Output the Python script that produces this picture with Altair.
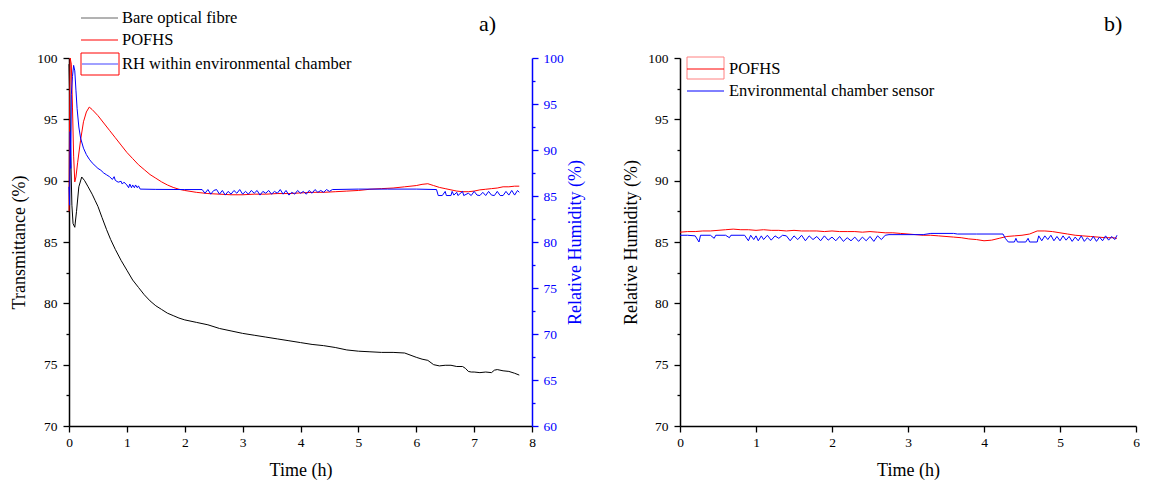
import altair as alt
import pandas as pd

FONT = "Liberation Serif"

# ---------------- Panel a) ----------------
bare_time = [0.0, 0.01, 0.03, 0.05, 0.07, 0.1, 0.13, 0.17, 0.22, 0.27,
             0.33, 0.4, 0.45, 0.5, 0.57, 0.65, 0.72, 0.8, 0.9, 1.0,
             1.1, 1.2, 1.3, 1.4, 1.5, 1.6, 1.7, 1.8, 1.9, 2.0,
             2.2, 2.4, 2.6, 2.8, 3.0, 3.2, 3.4, 3.6, 3.8, 4.0,
             4.2, 4.4, 4.6, 4.8, 5.0, 5.2, 5.4, 5.6, 5.8, 6.0,
             6.1, 6.2, 6.3, 6.4, 6.5, 6.6, 6.7, 6.8, 6.85, 6.9,
             6.95, 7.0, 7.1, 7.2, 7.3, 7.35, 7.4, 7.5, 7.6, 7.7,
             7.78]
bare_T = [99.5, 97.0, 92.0, 88.0, 86.5, 86.2, 87.5, 89.5, 90.3, 90.0,
          89.5, 88.9, 88.4, 87.9, 87.0, 86.0, 85.2, 84.4, 83.5, 82.7,
          81.9, 81.3, 80.7, 80.2, 79.8, 79.5, 79.2, 79.0, 78.8, 78.65,
          78.45, 78.25, 77.95, 77.75, 77.55, 77.4, 77.25, 77.1, 76.95, 76.8,
          76.65, 76.55, 76.4, 76.2, 76.1, 76.05, 76.0, 76.0, 75.95, 75.6,
          75.45, 75.35, 75.0, 74.9, 74.95, 74.95, 74.85, 74.85, 74.7, 74.45,
          74.4, 74.4, 74.35, 74.4, 74.35, 74.55, 74.6, 74.5, 74.45, 74.3,
          74.15]

pofhs_a_time = [0.0, 0.01, 0.02, 0.04, 0.06, 0.08, 0.1, 0.12, 0.15, 0.2,
                0.25, 0.3, 0.35, 0.4, 0.5, 0.6, 0.7, 0.8, 0.9, 1.0,
                1.1, 1.2, 1.3, 1.4, 1.5, 1.6, 1.7, 1.8, 1.9, 2.0,
                2.2, 2.4, 2.6, 2.8, 3.0, 3.2, 3.4, 3.6, 3.8, 4.0,
                4.2, 4.4, 4.6, 4.8, 5.0, 5.2, 5.4, 5.6, 5.8, 6.0,
                6.1, 6.2, 6.3, 6.4, 6.5, 6.6, 6.7, 6.8, 6.9, 7.0,
                7.1, 7.2, 7.3, 7.4, 7.5, 7.6, 7.7, 7.78]
pofhs_a_T = [87.5, 95.0, 100.0, 99.5, 96.0, 92.0, 89.9, 90.3, 91.5, 93.3,
             94.8, 95.6, 96.0, 95.8, 95.3, 94.7, 94.1, 93.5, 92.9, 92.3,
             91.8, 91.3, 90.9, 90.5, 90.2, 89.9, 89.65, 89.45, 89.3, 89.2,
             89.05, 88.95, 88.9, 88.85, 88.85, 88.9, 88.9, 88.95, 88.95, 89.0,
             89.05, 89.05, 89.1, 89.15, 89.2, 89.3, 89.35, 89.4, 89.5, 89.6,
             89.7, 89.75, 89.6, 89.45, 89.35, 89.25, 89.15, 89.1, 89.1, 89.15,
             89.25, 89.3, 89.35, 89.4, 89.5, 89.5, 89.55, 89.55]

rh_a_time = [0.0, 0.01, 0.02, 0.03, 0.04, 0.06, 0.08, 0.1, 0.12, 0.14,
             0.17, 0.2, 0.25, 0.3, 0.35, 0.4, 0.45, 0.5, 0.55, 0.6,
             0.65, 0.7, 0.75, 0.78, 0.8, 0.85, 0.9, 0.92, 0.95, 1.0,
             1.03, 1.05, 1.08, 1.1, 1.13, 1.15, 1.18, 1.2, 1.23, 1.5,
             2.0, 2.3, 2.35, 2.4, 2.45, 2.5, 2.55, 2.6, 2.65, 2.7,
             2.75, 2.8, 2.85, 2.9, 2.95, 3.0, 3.05, 3.1, 3.15, 3.2,
             3.25, 3.3, 3.35, 3.4, 3.45, 3.5, 3.55, 3.6, 3.65, 3.7,
             3.75, 3.8, 3.85, 3.9, 3.95, 4.0, 4.05, 4.1, 4.15, 4.2,
             4.25, 4.3, 4.35, 4.4, 4.45, 4.5, 4.55, 5.0, 5.5, 6.0,
             6.35, 6.38, 6.45, 6.5, 6.52, 6.6, 6.62, 6.65, 6.7, 6.72,
             6.8, 6.82, 6.9, 6.95, 7.0, 7.05, 7.1, 7.15, 7.2, 7.25,
             7.3, 7.35, 7.4, 7.45, 7.5, 7.55, 7.6, 7.65, 7.7, 7.75,
             7.78]
rh_a_RH = [86.0, 84.0, 92.0, 88.0, 96.0, 98.0, 99.2, 98.6, 96.5, 94.5,
           92.5, 91.3, 90.2, 89.5, 89.0, 88.6, 88.3, 88.0, 87.8, 87.5,
           87.3, 87.1, 86.8, 87.1, 86.7, 86.5, 86.6, 86.3, 86.5, 86.2,
           85.9, 86.3, 85.9, 86.2, 85.9, 86.2, 85.9, 86.1, 85.75, 85.72,
           85.7, 85.7, 85.3, 85.7, 85.2, 85.6, 85.7, 85.2, 85.6, 85.1,
           85.5, 85.2, 85.6, 85.3, 85.7, 85.2, 85.5, 85.2, 85.6, 85.3,
           85.6, 85.1, 85.5, 85.3, 85.6, 85.2, 85.5, 85.3, 85.7, 85.2,
           85.6, 85.1, 85.4, 85.2, 85.6, 85.3, 85.5, 85.2, 85.6, 85.3,
           85.7, 85.4, 85.6, 85.4, 85.7, 85.5, 85.7, 85.75, 85.75, 85.75,
           85.7, 85.05, 85.05, 85.5, 85.05, 85.05, 85.5, 85.1, 85.4, 85.05,
           85.5, 85.05, 85.3, 85.05, 85.5, 85.1, 85.05, 85.4, 85.05, 85.5,
           85.1, 85.05, 85.5, 85.05, 85.05, 85.5, 85.1, 85.6, 85.1, 85.6,
           85.4]

# ---------------- Panel b) ----------------
pofhs_b_time = [0.0, 0.1, 0.2, 0.3, 0.4, 0.5, 0.6, 0.7, 0.8, 0.9,
                1.0, 1.1, 1.2, 1.3, 1.4, 1.5, 1.6, 1.7, 1.8, 1.9,
                2.0, 2.1, 2.2, 2.3, 2.4, 2.5, 2.6, 2.7, 2.8, 2.9,
                3.0, 3.1, 3.2, 3.3, 3.4, 3.5, 3.6, 3.7, 3.8, 3.9,
                4.0, 4.1, 4.2, 4.3, 4.4, 4.5, 4.6, 4.7, 4.8, 4.9,
                5.0, 5.1, 5.2, 5.3, 5.4, 5.5, 5.6, 5.7, 5.75]
pofhs_b_RH = [85.8, 85.85, 85.85, 85.9, 85.9, 85.95, 86.0, 86.05, 86.0, 86.0,
              85.95, 86.0, 85.95, 85.95, 85.9, 85.95, 85.9, 85.9, 85.9, 85.85,
              85.9, 85.85, 85.85, 85.85, 85.8, 85.85, 85.8, 85.75, 85.75, 85.7,
              85.65, 85.6, 85.55, 85.55, 85.5, 85.45, 85.4, 85.35, 85.25, 85.2,
              85.1, 85.15, 85.3, 85.45, 85.5, 85.55, 85.65, 85.9, 85.9, 85.85,
              85.75, 85.65, 85.55, 85.5, 85.45, 85.4, 85.35, 85.35, 85.3]

env_b_time = [0.0, 0.1, 0.2, 0.25, 0.27, 0.4, 0.45, 0.47, 0.6, 0.65,
              0.67, 0.85, 0.9, 0.93, 0.97, 1.0, 1.03, 1.07, 1.1, 1.15,
              1.2, 1.25, 1.3, 1.35, 1.4, 1.45, 1.5, 1.55, 1.6, 1.65,
              1.7, 1.75, 1.8, 1.85, 1.9, 1.95, 2.0, 2.05, 2.1, 2.15,
              2.2, 2.25, 2.3, 2.35, 2.4, 2.45, 2.5, 2.55, 2.6, 2.65,
              2.7, 2.75, 3.0, 3.2, 3.3, 3.6, 3.65, 3.9, 4.0, 4.25,
              4.28, 4.32, 4.4, 4.42, 4.44, 4.55, 4.58, 4.6, 4.7, 4.72,
              4.76, 4.8, 4.84, 4.88, 4.92, 4.96, 5.0, 5.04, 5.08, 5.12,
              5.16, 5.2, 5.24, 5.28, 5.32, 5.36, 5.4, 5.44, 5.48, 5.52,
              5.56, 5.6, 5.64, 5.68, 5.72, 5.75]
env_b_RH = [85.55, 85.55, 85.5, 85.0, 85.55, 85.55, 85.3, 85.55, 85.55, 85.35,
            85.55, 85.55, 85.1, 85.55, 85.2, 85.5, 85.1, 85.5, 85.2, 85.55,
            85.15, 85.5, 85.3, 85.55, 85.5, 85.1, 85.5, 85.2, 85.55, 85.1,
            85.5, 85.2, 85.45, 85.1, 85.5, 85.15, 85.4, 85.1, 85.45, 85.05,
            85.35, 85.1, 85.4, 85.05, 85.4, 85.1, 85.45, 85.05, 85.5, 85.2,
            85.55, 85.6, 85.6, 85.6, 85.7, 85.7, 85.65, 85.65, 85.65, 85.65,
            85.3, 85.0, 85.0, 85.3, 85.0, 85.0, 85.3, 85.0, 85.0, 85.5,
            85.1, 85.5, 85.2, 85.55, 85.1, 85.45, 85.1, 85.5, 85.15, 85.45,
            85.05, 85.4, 85.1, 85.5, 85.05, 85.35, 85.1, 85.45, 85.05, 85.4,
            85.1, 85.5, 85.15, 85.45, 85.2, 85.55]

# tick positions
x_ticks_a = [0, 0.5, 1, 1.5, 2, 2.5, 3, 3.5, 4, 4.5, 5, 5.5, 6, 6.5, 7, 7.5, 8]
x_ticks_b = [0, 0.5, 1, 1.5, 2, 2.5, 3, 3.5, 4, 4.5, 5, 5.5, 6]
t_ticks = [70, 72.5, 75, 77.5, 80, 82.5, 85, 87.5, 90, 92.5, 95, 97.5, 100]
rh_ticks_a = [60, 62.5, 65, 67.5, 70, 72.5, 75, 77.5, 80, 82.5, 85, 87.5,
              90, 92.5, 95, 97.5, 100]

BLUE = "#0000ff"
RED = "#ff0000"

df_a = pd.concat([
    pd.DataFrame({"t": bare_time, "v": bare_T, "s": "Bare optical fibre"}),
    pd.DataFrame({"t": pofhs_a_time, "v": pofhs_a_T, "s": "POFHS"}),
])
df_rh_a = pd.DataFrame({"t": rh_a_time, "v": rh_a_RH})
df_pofhs_b = pd.DataFrame({"t": pofhs_b_time, "v": pofhs_b_RH})
df_env_b = pd.DataFrame({"t": env_b_time, "v": env_b_RH})
one = pd.DataFrame({"k": [0]})


def make_axis(values, major, title, orient, color="black", label_pad=5,
              title_pad=10, angle=None):
    kw = dict(
        values=values, title=title, orient=orient, grid=False, format="d",
        labelExpr=f"datum.value % {major} === 0 ? datum.label : ''",
        tickSize={"condition": {"test": f"datum.value % {major} !== 0", "value": 3},
                  "value": 6},
        labelFlush=False, labelOverlap=False,
        labelFont=FONT, labelFontSize=13.5, labelColor=color,
        titleFont=FONT, titleFontSize=18, titleFontWeight="normal",
        titleColor=color, domainColor=color, tickColor=color,
        domainWidth=1.5, tickWidth=1.3, labelPadding=label_pad,
        titlePadding=title_pad,
    )
    if angle is not None:
        kw["titleAngle"] = angle
    return alt.Axis(**kw)


xa = make_axis(x_ticks_a, 1, "Time (h)", "bottom", label_pad=3, title_pad=13)
xb = make_axis(x_ticks_b, 1, "Time (h)", "bottom", label_pad=3, title_pad=13)
ya_left = make_axis(t_ticks, 5, "Transmittance (%)", "left", label_pad=6, title_pad=8)
ya_right = make_axis(rh_ticks_a, 5, "Relative Humidity (%)", "right", color=BLUE,
                     label_pad=5, title_pad=21, angle=270)
yb = make_axis(t_ticks, 5, "Relative Humidity (%)", "left", label_pad=6, title_pad=7)

xs_a = alt.Scale(domain=[0, 8], nice=False, zero=False)
xs_b = alt.Scale(domain=[0, 6], nice=False, zero=False)


def hline(x1, x2, y, color, width=1.0):
    return alt.Chart(one).mark_rule(color=color, strokeWidth=width).encode(
        x=alt.value(x1), x2=alt.value(x2), y=alt.value(y))


def label(x, y, text, size=16.5):
    return alt.Chart(one).mark_text(align="left", baseline="middle", font=FONT,
                                    fontSize=size, color="black").encode(
        x=alt.value(x), y=alt.value(y), text=alt.value(text))


def box(x1, x2, y1, y2, color):
    return alt.Chart(one).mark_rect(fillOpacity=0, stroke=color, strokeWidth=1).encode(
        x=alt.value(x1), x2=alt.value(x2), y=alt.value(y1), y2=alt.value(y2))


lines_a = alt.Chart(df_a).mark_line(strokeWidth=1).encode(
    x=alt.X("t:Q", scale=xs_a, axis=xa),
    y=alt.Y("v:Q", scale=alt.Scale(domain=[70, 100], nice=False, zero=False), axis=ya_left),
    color=alt.Color("s:N", scale=alt.Scale(domain=["Bare optical fibre", "POFHS"],
                                           range=["#000000", RED]), legend=None),
)
rh_a = alt.Chart(df_rh_a).mark_line(strokeWidth=1, color=BLUE).encode(
    x=alt.X("t:Q", scale=xs_a, axis=xa),
    y=alt.Y("v:Q", scale=alt.Scale(domain=[60, 100], nice=False, zero=False), axis=ya_right),
)

deco_a = [
    hline(12, 49, -40, "#666666"),
    label(53, -40, "Bare optical fibre"),
    hline(12, 49, -18, RED),
    label(53, -18, "POFHS"),
    box(12, 50, -5, 17, RED),
    hline(13, 49, 6, "#8080ff", 1.5),
    label(53, 6, "RH within environmental chamber"),
    label(410, -34, "a)", 22),
]

left = alt.layer(lines_a, rh_a, *deco_a).resolve_scale(y="independent").properties(
    width=463, height=368)

ys_b = alt.Scale(domain=[70, 100], nice=False, zero=False)
pofhs_b = alt.Chart(df_pofhs_b).mark_line(strokeWidth=1, color=RED).encode(
    x=alt.X("t:Q", scale=xs_b, axis=xb),
    y=alt.Y("v:Q", scale=ys_b, axis=yb),
)
env_b = alt.Chart(df_env_b).mark_line(strokeWidth=1, color=BLUE).encode(
    x=alt.X("t:Q", scale=xs_b, axis=xb),
    y=alt.Y("v:Q", scale=ys_b, axis=yb),
)
deco_b = [
    box(7, 44, -1, 21, "#ff8080"),
    hline(7, 44, 11, RED),
    label(49, 11, "POFHS"),
    hline(7, 44, 33, BLUE),
    label(49, 33, "Environmental chamber sensor"),
    label(424, -34, "b)", 22),
]
right = alt.layer(pofhs_b, env_b, *deco_b).properties(width=456, height=368)

chart = alt.hconcat(left, right, spacing=37).properties(
    padding={"left": 2, "top": 2, "right": 0, "bottom": 0}
).configure_view(stroke=None)

chart.save("out.html", embed_options={"renderer": "svg", "actions": False})
